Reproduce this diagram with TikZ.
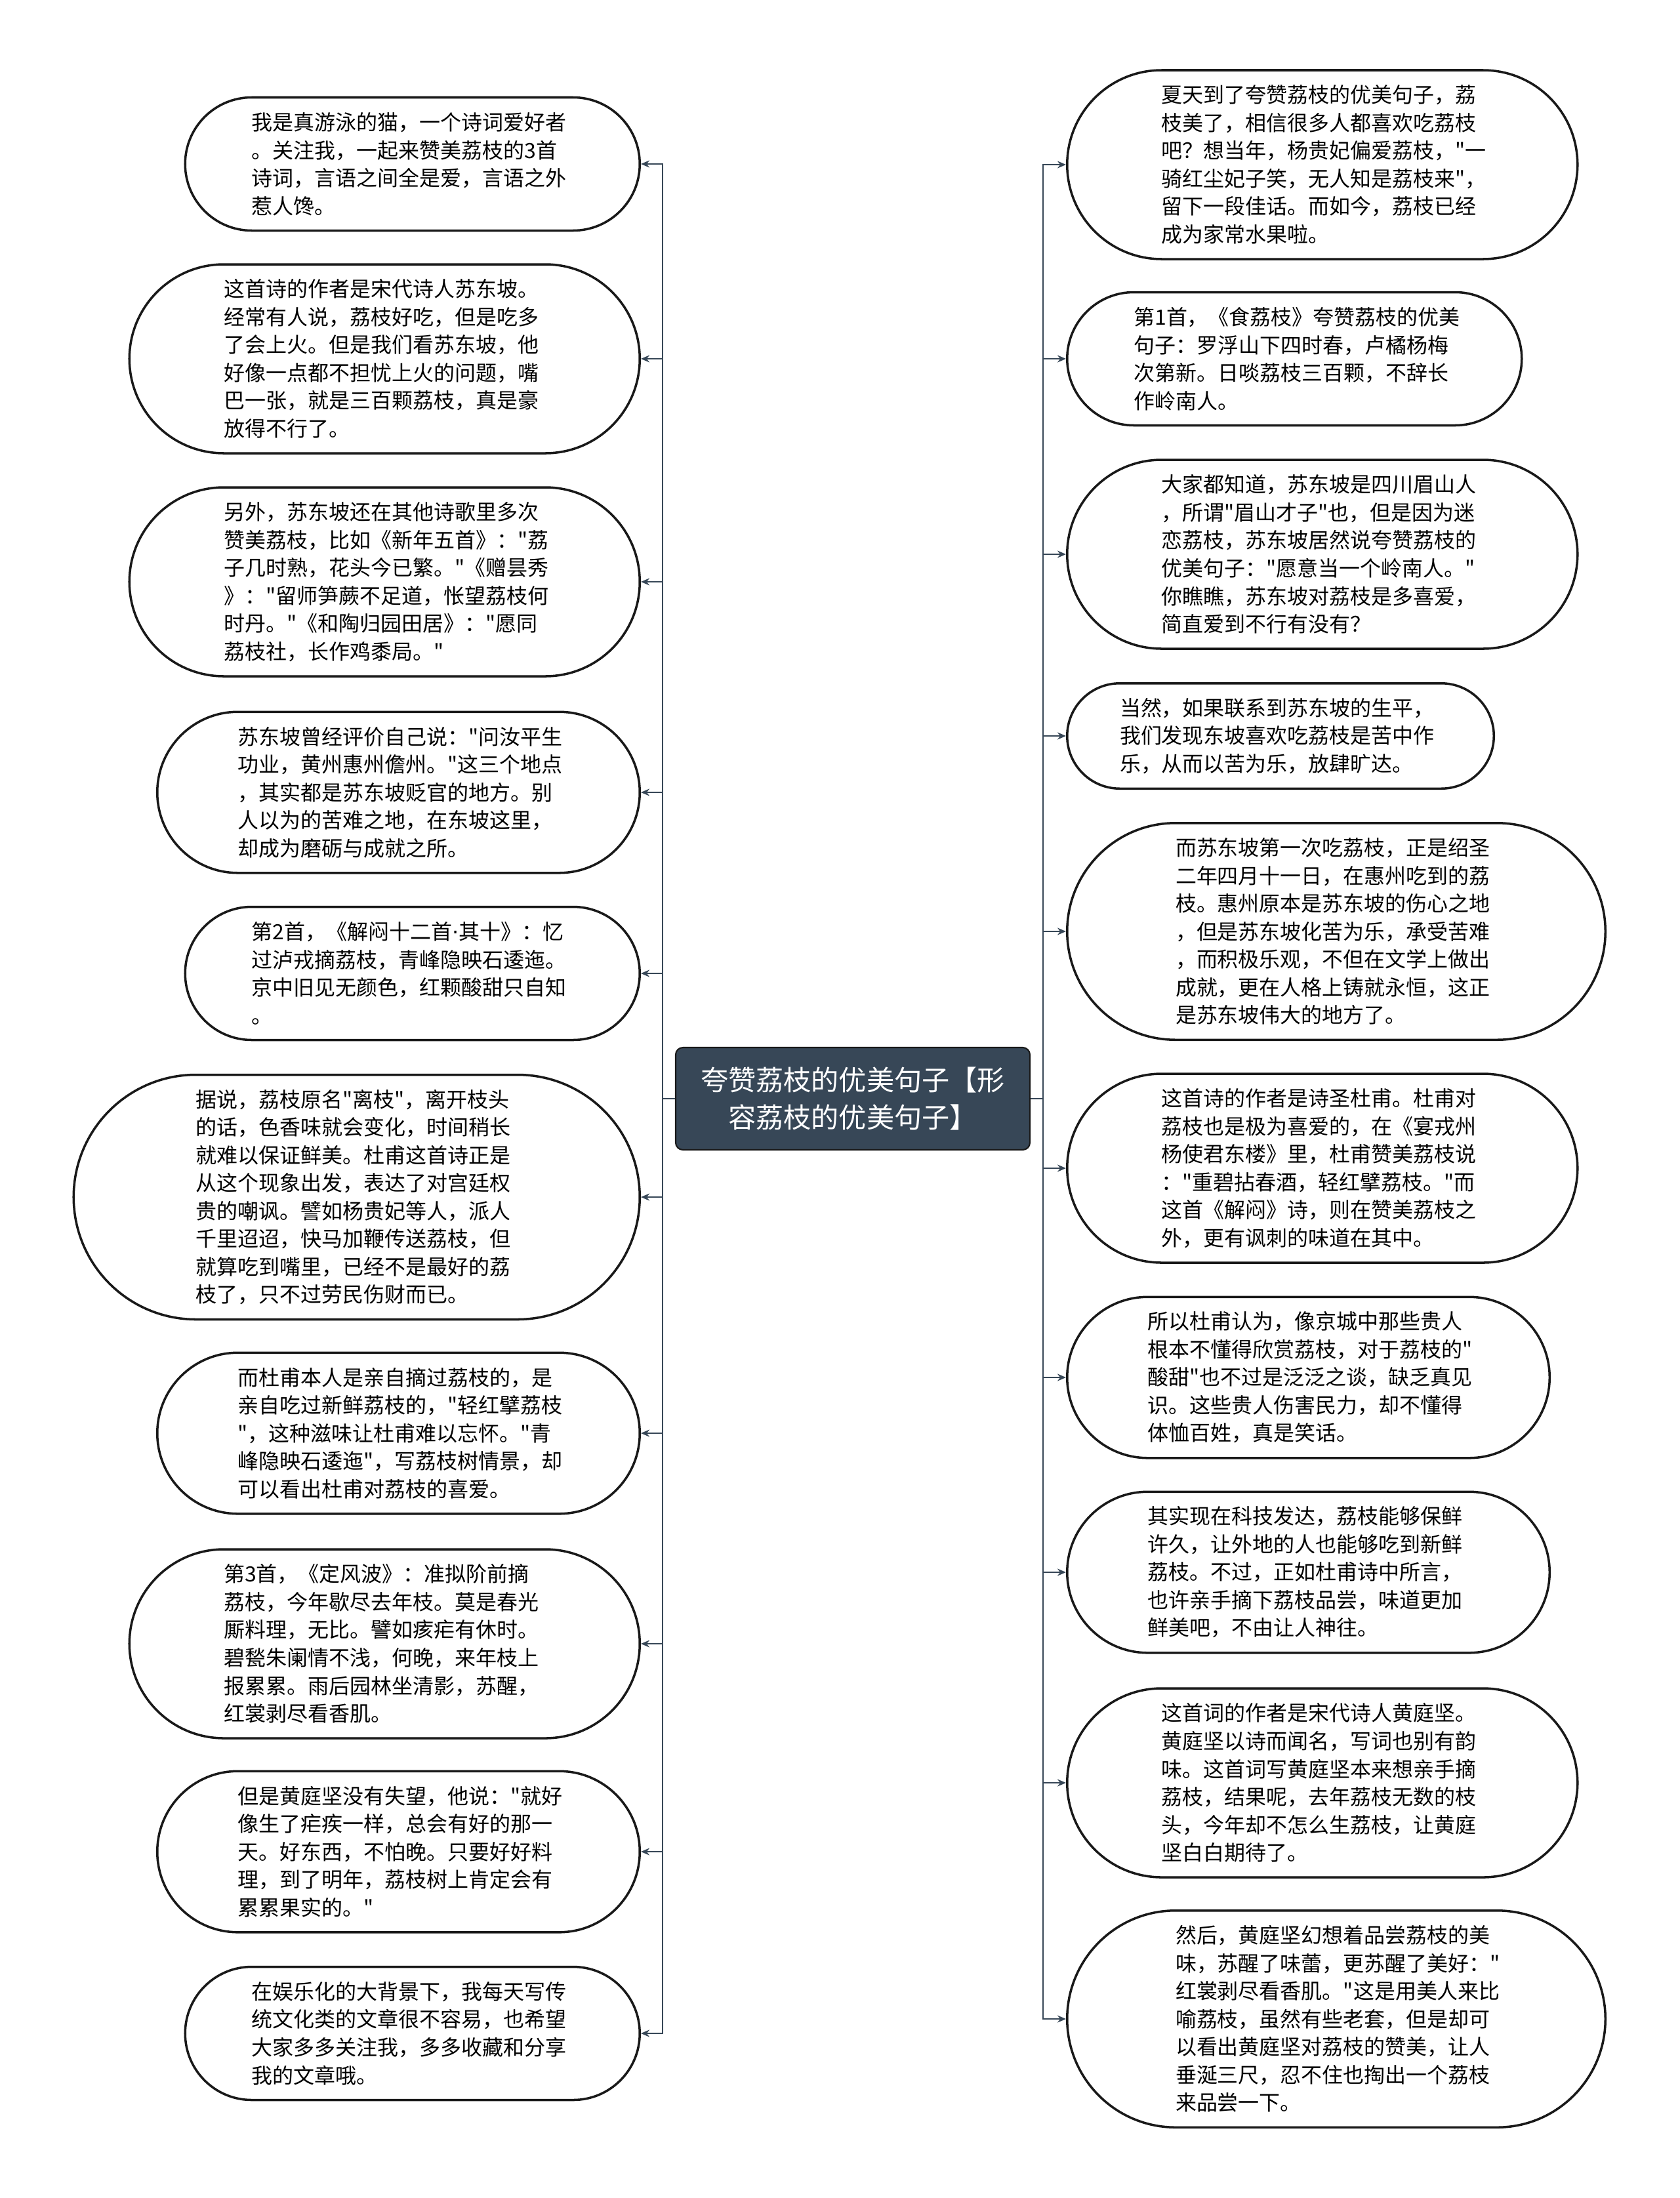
\documentclass[tikz,border=0pt]{standalone}
\usepackage{fontspec}
\newfontfamily\cjk{Noto Sans CJK SC}
\newfontfamily\dotfont{DejaVu Sans}
\usepackage{tikz}
\usetikzlibrary{arrows.meta, shapes.misc, positioning}
\definecolor{slateDark}{RGB}{55, 71, 87}
\definecolor{outlineDark}{RGB}{25, 25, 25}
\tikzset{
  rootNode/.style={
    draw=outlineDark,
    line width=0.6pt,
    fill=slateDark,
    rounded corners=1.1mm,
    minimum width=5.4cm,
    minimum height=1.56cm,
    align=center,
    text=white,
    font=\cjk\fontsize{12pt}{16.2pt}\selectfont
  },
  leafNode/.style={
    draw=outlineDark,
    line width=1pt,
    fill=white,
    rounded rectangle,
    text width=4.9cm,
    align=left,
    inner xsep=0.5mm,
    inner ysep=0pt,
    font=\cjk\fontsize{9.1pt}{12.1pt}\selectfont
  },
  % height from the number of lines, ends as wide as the height
  nLines/.style={
    minimum height=#1*4.25mm+3.3mm,
    minimum width=#1*4.25mm+3.3mm+5.0cm
  },
  branchLine/.style={
    ->,
    >={Stealth[length=1.3mm, width=1.1mm]},
    draw=slateDark,
    line width=0.6pt
  }
}

\begin{document}
\begin{tikzpicture}
  \fill[white] (0,0) rectangle (25.6,-33.51);
  \useasboundingbox (0,0) rectangle (25.6,-33.51);

  % root
  \node[rootNode] (root) at (13.00,-16.75) {夸赞荔枝的优美句子【形\\容荔枝的优美句子】};
  \coordinate (trunkL) at (10.10,-16.75);
  \coordinate (trunkR) at (15.90,-16.75);

  % left branch
  \node[leafNode, nLines=4, anchor=east] (l1) at (9.77,-2.50) {我是真游泳的猫，一个诗词爱好者\\。关注我，一起来赞美荔枝的3首\\诗词，言语之间全是爱，言语之外\\惹人馋。};
  \node[leafNode, nLines=6, anchor=east] (l2) at (9.77,-5.47) {这首诗的作者是宋代诗人苏东坡。\\经常有人说，荔枝好吃，但是吃多\\了会上火。但是我们看苏东坡，他\\好像一点都不担忧上火的问题，嘴\\巴一张，就是三百颗荔枝，真是豪\\放得不行了。};
  \node[leafNode, nLines=6, anchor=east] (l3) at (9.77,-8.87) {另外，苏东坡还在其他诗歌里多次\\赞美荔枝，比如《新年五首》："荔\\子几时熟，花头今已繁。"《赠昙秀\\》："留师笋蕨不足道，怅望荔枝何\\时丹。"《和陶归园田居》："愿同\\荔枝社，长作鸡黍局。"};
  \node[leafNode, nLines=5, anchor=east] (l4) at (9.77,-12.08) {苏东坡曾经评价自己说："问汝平生\\功业，黄州惠州儋州。"这三个地点\\，其实都是苏东坡贬官的地方。别\\人以为的苦难之地，在东坡这里，\\却成为磨砺与成就之所。};
  \node[leafNode, nLines=4, anchor=east] (l5) at (9.77,-14.84) {第2首，《解闷十二首{\dotfont ·}其十》：忆\\过泸戎摘荔枝，青峰隐映石逶迤。\\京中旧见无颜色，红颗酸甜只自知\\。};
  \node[leafNode, nLines=8, anchor=east] (l6) at (9.77,-18.25) {据说，荔枝原名"离枝"，离开枝头\\的话，色香味就会变化，时间稍长\\就难以保证鲜美。杜甫这首诗正是\\从这个现象出发，表达了对宫廷权\\贵的嘲讽。譬如杨贵妃等人，派人\\千里迢迢，快马加鞭传送荔枝，但\\就算吃到嘴里，已经不是最好的荔\\枝了，只不过劳民伤财而已。};
  \node[leafNode, nLines=5, anchor=east] (l7) at (9.77,-21.85) {而杜甫本人是亲自摘过荔枝的，是\\亲自吃过新鲜荔枝的，"轻红擘荔枝\\"，这种滋味让杜甫难以忘怀。"青\\峰隐映石逶迤"，写荔枝树情景，却\\可以看出杜甫对荔枝的喜爱。};
  \node[leafNode, nLines=6, anchor=east] (l8) at (9.77,-25.06) {第3首，《定风波》：准拟阶前摘\\荔枝，今年歇尽去年枝。莫是春光\\厮料理，无比。譬如痎疟有休时。\\碧甃朱阑情不浅，何晚，来年枝上\\报累累。雨后园林坐清影，苏醒，\\红裳剥尽看香肌。};
  \node[leafNode, nLines=5, anchor=east] (l9) at (9.77,-28.23) {但是黄庭坚没有失望，他说："就好\\像生了疟疾一样，总会有好的那一\\天。好东西，不怕晚。只要好好料\\理，到了明年，荔枝树上肯定会有\\累累果实的。"};
  \node[leafNode, nLines=4, anchor=east] (l10) at (9.77,-31.00) {在娱乐化的大背景下，我每天写传\\统文化类的文章很不容易，也希望\\大家多多关注我，多多收藏和分享\\我的文章哦。};

  % right branch
  \node[leafNode, nLines=6, anchor=west] (r1) at (16.25,-2.51) {夏天到了夸赞荔枝的优美句子，荔\\枝美了，相信很多人都喜欢吃荔枝\\吧？想当年，杨贵妃偏爱荔枝，"一\\骑红尘妃子笑，无人知是荔枝来"，\\留下一段佳话。而如今，荔枝已经\\成为家常水果啦。};
  \node[leafNode, nLines=4, anchor=west] (r2) at (16.25,-5.47) {第1首，《食荔枝》夸赞荔枝的优美\\句子：罗浮山下四时春，卢橘杨梅\\次第新。日啖荔枝三百颗，不辞长\\作岭南人。};
  \node[leafNode, nLines=6, anchor=west] (r3) at (16.25,-8.45) {大家都知道，苏东坡是四川眉山人\\，所谓"眉山才子"也，但是因为迷\\恋荔枝，苏东坡居然说夸赞荔枝的\\优美句子："愿意当一个岭南人。"\\你瞧瞧，苏东坡对荔枝是多喜爱，\\简直爱到不行有没有？};
  \node[leafNode, nLines=3, anchor=west] (r4) at (16.25,-11.22) {当然，如果联系到苏东坡的生平，\\我们发现东坡喜欢吃荔枝是苦中作\\乐，从而以苦为乐，放肆旷达。};
  \node[leafNode, nLines=7, anchor=west] (r5) at (16.25,-14.20) {而苏东坡第一次吃荔枝，正是绍圣\\二年四月十一日，在惠州吃到的荔\\枝。惠州原本是苏东坡的伤心之地\\，但是苏东坡化苦为乐，承受苦难\\，而积极乐观，不但在文学上做出\\成就，更在人格上铸就永恒，这正\\是苏东坡伟大的地方了。};
  \node[leafNode, nLines=6, anchor=west] (r6) at (16.25,-17.81) {这首诗的作者是诗圣杜甫。杜甫对\\荔枝也是极为喜爱的，在《宴戎州\\杨使君东楼》里，杜甫赞美荔枝说\\："重碧拈春酒，轻红擘荔枝。"而\\这首《解闷》诗，则在赞美荔枝之\\外，更有讽刺的味道在其中。};
  \node[leafNode, nLines=5, anchor=west] (r7) at (16.25,-21.00) {所以杜甫认为，像京城中那些贵人\\根本不懂得欣赏荔枝，对于荔枝的"\\酸甜"也不过是泛泛之谈，缺乏真见\\识。这些贵人伤害民力，却不懂得\\体恤百姓，真是笑话。};
  \node[leafNode, nLines=5, anchor=west] (r8) at (16.25,-23.97) {其实现在科技发达，荔枝能够保鲜\\许久，让外地的人也能够吃到新鲜\\荔枝。不过，正如杜甫诗中所言，\\也许亲手摘下荔枝品尝，味道更加\\鲜美吧，不由让人神往。};
  \node[leafNode, nLines=6, anchor=west] (r9) at (16.25,-27.18) {这首词的作者是宋代诗人黄庭坚。\\黄庭坚以诗而闻名，写词也别有韵\\味。这首词写黄庭坚本来想亲手摘\\荔枝，结果呢，去年荔枝无数的枝\\头，今年却不怎么生荔枝，让黄庭\\坚白白期待了。};
  \node[leafNode, nLines=7, anchor=west] (r10) at (16.25,-30.78) {然后，黄庭坚幻想着品尝荔枝的美\\味，苏醒了味蕾，更苏醒了美好："\\红裳剥尽看香肌。"这是用美人来比\\喻荔枝，虽然有些老套，但是却可\\以看出黄庭坚对荔枝的赞美，让人\\垂涎三尺，忍不住也掏出一个荔枝\\来品尝一下。};

  % connectors
  \foreach \i in {1,...,10} {
    \draw[branchLine] (root.west) -- (trunkL) |- (l\i.east);
    \draw[branchLine] (root.east) -- (trunkR) |- (r\i.west);
  }
\end{tikzpicture}
\end{document}
